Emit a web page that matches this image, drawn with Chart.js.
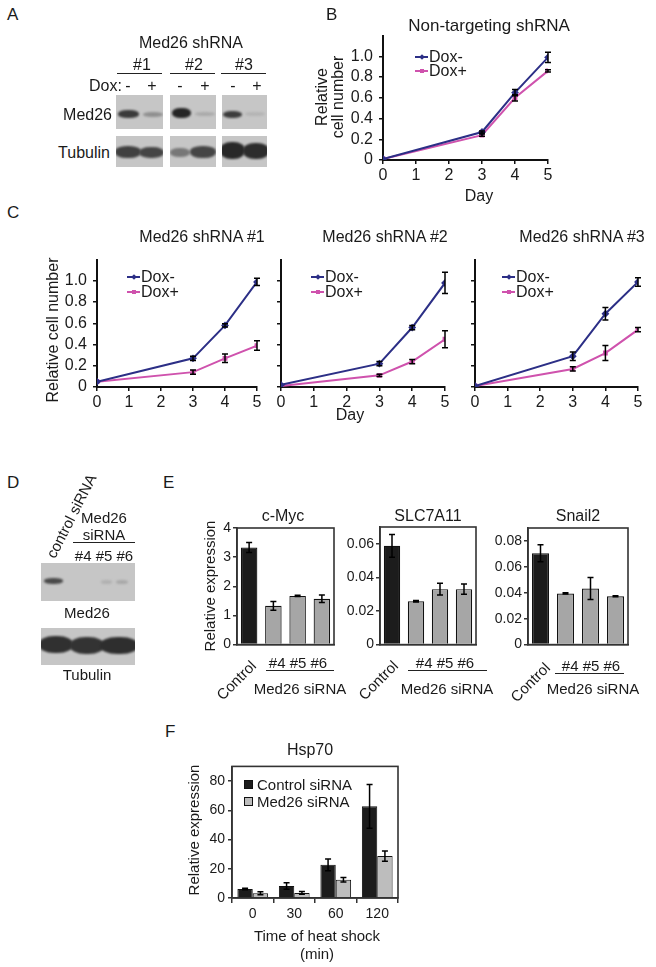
<!DOCTYPE html>
<html>
<head>
<meta charset="utf-8">
<script src="https://cdn.jsdelivr.net/npm/chart.js@4.4.0/dist/chart.umd.min.js"></script>
<style>
body{margin:0;background:#fff;width:656px;height:967px;position:relative;overflow:hidden;font-family:Arial,"Liberation Sans",sans-serif;color:#1a1a1a}
canvas{position:absolute}
.t{position:absolute;white-space:nowrap;line-height:1}
.ln{position:absolute;border-top:1.6px solid #222;height:0}
.blot{position:absolute;background:#c6c6c6;overflow:hidden}
.band{position:absolute;border-radius:45%;filter:blur(1.2px)}
</style>
</head>
<body>
<canvas id="chB" width="230" height="170"></canvas>
<canvas id="chC1" width="230" height="170"></canvas>
<canvas id="chC2" width="220" height="170"></canvas>
<canvas id="chC3" width="215" height="170"></canvas>
<canvas id="chMyc" width="150" height="140"></canvas>
<canvas id="chSlc" width="150" height="140"></canvas>
<canvas id="chSnail" width="155" height="140"></canvas>
<canvas id="chHsp" width="230" height="180"></canvas>
<script>
// growth curves (relative cell number), days 0,3,4,5
const days = [0, 3, 4, 5];
const ntMinus = [0.01, 0.27, 0.65, 0.99];
const ntMinusErr = [0, 0.01, 0.03, 0.05];
const ntPlus = [0.01, 0.24, 0.60, 0.86];
const ntPlusErr = [0, 0.01, 0.03, 0.01];
const sh1Minus = [0.05, 0.27, 0.58, 0.99];
const sh1MinusErr = [0, 0.02, 0.015, 0.035];
const sh1Plus = [0.05, 0.14, 0.27, 0.39];
const sh1PlusErr = [0, 0.02, 0.04, 0.045];
const sh2Minus = [0.02, 0.22, 0.56, 0.98];
const sh2MinusErr = [0, 0.02, 0.02, 0.10];
const sh2Plus = [0.01, 0.11, 0.24, 0.45];
const sh2PlusErr = [0, 0.01, 0.02, 0.08];
const sh3Minus = [0.01, 0.29, 0.69, 0.99];
const sh3MinusErr = [0, 0.04, 0.06, 0.04];
const sh3Plus = [0.01, 0.17, 0.32, 0.54];
const sh3PlusErr = [0, 0.02, 0.07, 0.02];

// qPCR after siRNA
const siGroups = ["Control", "#4", "#5", "#6"];
const myc = [3.33, 1.33, 1.67, 1.57];
const mycErr = [0.17, 0.15, 0.02, 0.13];
const slc = [0.0588, 0.0258, 0.033, 0.033];
const slcErr = [0.0068, 0.0005, 0.0035, 0.003];
const snail = [0.0705, 0.0395, 0.0433, 0.0373];
const snailErr = [0.0066, 0.0005, 0.0084, 0.0004];

// Hsp70 heat shock
const hsTimes = ["0", "30", "60", "120"];
const hspControl = [6.2, 8.2, 22.7, 62.7];
const hspControlErr = [0.5, 2.2, 4, 15];
const hspMed26 = [3.2, 3.5, 12.5, 28.7];
const hspMed26Err = [1, 1, 1.5, 3.5];

const BLUE = "#2c2f86";
const PINK = "#cf52ad";
const DARK = "#1c1c1c";
const GRAY = "#a6a6a6";

Chart.defaults.font.family = 'Arial, "Liberation Sans", sans-serif';
Chart.defaults.color = "#1a1a1a";

// ticks 0, step, 2*step ... up to lastTick (the axis itself may go higher)
function stepTicks(step, lastTick) {
  return s => {
    const out = [];
    for (let k = 0; k * step <= lastTick + 1e-9; k++) out.push({ value: +(k * step).toFixed(6) });
    s.ticks = out;
  };
}

const errorBars = {
  id: "errorBars",
  afterDatasetsDraw(chart) {
    const ctx = chart.ctx, ys = chart.scales.y;
    chart.data.datasets.forEach((ds, i) => {
      if (!ds.errors) return;
      const cap = ds.errCap || 3;
      chart.getDatasetMeta(i).data.forEach((el, j) => {
        const e = ds.errors[j];
        if (!e) return;
        const d = ds.data[j];
        const v = typeof d === "object" ? d.y : d;
        const top = ys.getPixelForValue(v + e), bot = ys.getPixelForValue(v - e);
        ctx.save();
        ctx.strokeStyle = "#000";
        ctx.lineWidth = 1.5;
        ctx.beginPath();
        ctx.moveTo(el.x, top); ctx.lineTo(el.x, bot);
        ctx.moveTo(el.x - cap, top); ctx.lineTo(el.x + cap, top);
        ctx.moveTo(el.x - cap, bot); ctx.lineTo(el.x + cap, bot);
        ctx.stroke();
        ctx.restore();
      });
    });
  }
};

const frame = {
  id: "frame",
  afterDraw(chart) {
    const a = chart.chartArea, ctx = chart.ctx;
    ctx.save();
    ctx.strokeStyle = "#333";
    ctx.lineWidth = 1.6;
    ctx.strokeRect(a.left, a.top, a.right - a.left, a.bottom - a.top);
    ctx.restore();
  }
};

function place(id, left, top) {
  const c = document.getElementById(id);
  c.style.left = left + "px";
  c.style.top = top + "px";
  return c;
}

function growthChart(id, left, top, yW, padTop, padRight, xH, minus, minusErr, plus, plusErr, showY) {
  const cv = place(id, left, top);
  new Chart(cv, {
    type: "line",
    data: {
      datasets: [
        { label: "Dox-", data: days.map((d, i) => ({ x: d, y: minus[i] })), errors: minusErr,
          borderColor: BLUE, backgroundColor: BLUE, borderWidth: 2, pointStyle: "rectRot", pointRadius: 2.5 },
        { label: "Dox+", data: days.map((d, i) => ({ x: d, y: plus[i] })), errors: plusErr,
          borderColor: PINK, backgroundColor: PINK, borderWidth: 2, pointStyle: "rect", pointRadius: 2 }
      ]
    },
    options: {
      responsive: false, animation: false, devicePixelRatio: 1,
      layout: { padding: { top: padTop, right: padRight, left: 0, bottom: 0 } },
      plugins: { legend: { display: false }, tooltip: { enabled: false } },
      scales: {
        x: {
          type: "linear", min: 0, max: 5,
          ticks: { stepSize: 1, font: { size: 16 }, padding: 2, maxRotation: 0 },
          grid: { drawOnChartArea: false, tickLength: 4, color: "#111", lineWidth: 1.5 },
          border: { color: "#111", width: 2 },
          afterFit: s => { s.height = xH; }
        },
        y: {
          min: 0, max: 1.2,
          ticks: { font: { size: 16 }, padding: 6,
            callback: v => showY ? (v === 0 ? "0" : v.toFixed(1)) : "" },
          afterBuildTicks: stepTicks(0.2, 1.0),
          grid: { drawOnChartArea: false, tickLength: 4, color: "#111", lineWidth: 1.5 },
          border: { color: "#111", width: 2 },
          afterFit: s => { s.width = yW; }
        }
      }
    },
    plugins: [errorBars]
  });
}

function exprChart(id, left, top, yW, padTop, padRight, xH, vals, errs, max, step, lastTick) {
  const cv = place(id, left, top);
  new Chart(cv, {
    type: "bar",
    data: {
      labels: siGroups,
      datasets: [{ data: vals, errors: errs, errCap: 3,
        backgroundColor: [DARK, GRAY, GRAY, GRAY], borderColor: "#111", borderWidth: 1.2,
        barPercentage: 0.68, categoryPercentage: 1 }]
    },
    options: {
      responsive: false, animation: false, devicePixelRatio: 1,
      layout: { padding: { top: padTop, right: padRight, left: 0, bottom: 0 } },
      plugins: { legend: { display: false }, tooltip: { enabled: false } },
      scales: {
        x: {
          ticks: { display: false }, grid: { display: false },
          border: { color: "#333", width: 1.6 },
          afterFit: s => { s.height = xH; }
        },
        y: {
          min: 0, max: max,
          ticks: { font: { size: 14 }, padding: 2,
            callback: v => v === 0 ? "0" : (step < 1 ? v.toFixed(2) : String(v)) },
          afterBuildTicks: stepTicks(step, lastTick),
          grid: { drawOnChartArea: false, tickLength: 4, color: "#333", lineWidth: 1.5 },
          border: { color: "#333", width: 1.6 },
          afterFit: s => { s.width = yW; }
        }
      }
    },
    plugins: [errorBars, frame]
  });
}

growthChart("chB", 330, 20, 53, 10, 12, 30, ntMinus, ntMinusErr, ntPlus, ntPlusErr, true);
growthChart("chC1", 40, 244, 57, 10, 13, 27, sh1Minus, sh1MinusErr, sh1Plus, sh1PlusErr, true);
growthChart("chC2", 240, 244, 41, 10, 15, 27, sh2Minus, sh2MinusErr, sh2Plus, sh2PlusErr, false);
growthChart("chC3", 440, 244, 35, 10, 17, 27, sh3Minus, sh3MinusErr, sh3Plus, sh3PlusErr, false);

exprChart("chMyc", 195, 515, 42, 13, 11, 7, myc, mycErr, 4, 1, 4);
exprChart("chSlc", 335, 515, 45, 12, 9, 8, slc, slcErr, 0.07, 0.02, 0.06);
exprChart("chSnail", 483, 515, 45, 13, 10, 5, snail, snailErr, 0.09, 0.02, 0.08);

new Chart(place("chHsp", 180, 755), {
  type: "bar",
  data: {
    labels: hsTimes,
    datasets: [
      { label: "Control siRNA", data: hspControl, errors: hspControlErr, errCap: 3,
        backgroundColor: DARK, borderColor: "#111", borderWidth: 1, categoryPercentage: 0.74, barPercentage: 1 },
      { label: "Med26 siRNA", data: hspMed26, errors: hspMed26Err, errCap: 3,
        backgroundColor: "#bdbdbd", borderColor: "#111", borderWidth: 1, categoryPercentage: 0.74, barPercentage: 1 }
    ]
  },
  options: {
    responsive: false, animation: false, devicePixelRatio: 1,
    layout: { padding: { top: 8, right: 12, left: 0, bottom: 0 } },
    plugins: { legend: { display: false }, tooltip: { enabled: false } },
    scales: {
      x: {
        offset: true,
        ticks: { font: { size: 14 }, padding: 3 },
        grid: { offset: true, drawOnChartArea: false, tickLength: 5, color: "#333", lineWidth: 1.5 },
        border: { color: "#333", width: 1.6 },
        afterFit: s => { s.height = 37; }
      },
      y: {
        min: 0, max: 90,
        ticks: { font: { size: 14 }, padding: 3 },
        afterBuildTicks: stepTicks(20, 80),
        grid: { drawOnChartArea: false, tickLength: 4, color: "#333", lineWidth: 1.5 },
        border: { color: "#333", width: 1.6 },
        afterFit: s => { s.width = 52; }
      }
    }
  },
  plugins: [errorBars, frame]
});

// ---- text, legends, blots (html) ----
function txt(s, x, y, size, anchor, rot) {
  const d = document.createElement("div");
  d.className = "t";
  d.textContent = s;
  d.style.left = x + "px";
  d.style.top = y + "px";
  d.style.fontSize = size + "px";
  const tx = anchor === "left" ? "0" : anchor === "right" ? "-100%" : "-50%";
  d.style.transform = `translate(${tx},-50%)` + (rot ? ` rotate(${rot}deg)` : "");
  document.body.appendChild(d);
}
function hline(x1, x2, y) {
  const d = document.createElement("div");
  d.className = "ln";
  d.style.left = x1 + "px"; d.style.top = y + "px"; d.style.width = (x2 - x1) + "px";
  document.body.appendChild(d);
}
function legendLine(x, y, color, diamond, label) {
  const l = document.createElement("div");
  l.style.cssText = `position:absolute;left:${x}px;top:${y - 1}px;width:13px;height:2px;background:${color}`;
  document.body.appendChild(l);
  const m = document.createElement("div");
  const s = 4;
  m.style.cssText = `position:absolute;left:${x + 6.5 - s / 2}px;top:${y - s / 2}px;width:${s}px;height:${s}px;background:${color};` +
    (diamond ? "transform:rotate(45deg)" : "");
  document.body.appendChild(m);
  txt(label, x + 14, y, 16, "left");
}
function legendBox(x, y, color, label) {
  const b = document.createElement("div");
  b.style.cssText = `position:absolute;left:${x}px;top:${y - 4}px;width:7px;height:7px;background:${color};border:1px solid #111`;
  document.body.appendChild(b);
  txt(label, x + 13, y, 15, "left");
}
function blot(x, y, w, h, bands) {
  const b = document.createElement("div");
  b.className = "blot";
  b.style.cssText += `left:${x}px;top:${y}px;width:${w}px;height:${h}px`;
  bands.forEach(([bx, by, bw, bh, c]) => {
    const d = document.createElement("div");
    d.className = "band";
    d.style.cssText += `left:${bx - x}px;top:${by - y}px;width:${bw}px;height:${bh}px;background:${c}`;
    b.appendChild(d);
  });
  document.body.appendChild(b);
}

// panel letters
txt("A", 7, 14, 17, "left");
txt("B", 326, 14, 17, "left");
txt("C", 7, 212, 17, "left");
txt("D", 7, 482, 17, "left");
txt("E", 163, 482, 17, "left");
txt("F", 165, 731, 17, "left");

// A: western blot
txt("Med26 shRNA", 191, 43, 16);
txt("#1", 142, 65, 16); txt("#2", 194, 65, 16); txt("#3", 244, 65, 16);
hline(117, 162, 73); hline(170, 215, 73); hline(221, 266, 73);
txt("Dox:", 89, 86, 16, "left");
[[128, "-"], [152, "+"], [180, "-"], [205, "+"], [233, "-"], [257, "+"]].forEach(([x, s]) => txt(s, x, 86, 16));
txt("Med26", 112, 115, 16, "right");
txt("Tubulin", 110, 153, 16, "right");
blot(116, 95, 47, 34, [[118, 110, 21, 8, "#3a3a3a"], [143, 112, 20, 5, "#8f8f8f"]]);
blot(170, 95, 46, 34, [[172, 108, 19, 10, "#252525"], [195, 112, 20, 4, "#aaaaaa"]]);
blot(222, 95, 45, 34, [[223, 111, 19, 7, "#3c3c3c"], [245, 112, 20, 4, "#b4b4b4"]]);
blot(116, 136, 47, 31, [[115, 146, 26, 12, "#404040"], [139, 147, 25, 11, "#454545"]]);
blot(170, 136, 46, 31, [[170, 148, 20, 9, "#777777"], [190, 146, 26, 12, "#454545"]]);
blot(222, 136, 45, 31, [[220, 142, 25, 17, "#282828"], [243, 143, 26, 16, "#2c2c2c"]]);

// B
txt("Non-targeting shRNA", 489, 25, 17);
txt("Relative", 322, 97, 16, "center", -90);
txt("cell number", 338, 97, 16, "center", -90);
txt("Day", 479, 196, 16);
legendLine(415, 57, BLUE, true, "Dox-");
legendLine(415, 71, PINK, false, "Dox+");

// C
txt("Med26 shRNA #1", 202, 237, 16);
txt("Med26 shRNA #2", 385, 237, 16);
txt("Med26 shRNA #3", 582, 237, 16);
txt("Relative cell number", 53, 330, 16, "center", -90);
txt("Day", 350, 415, 16);
[127, 311, 502].forEach(x => {
  legendLine(x, 277, BLUE, true, "Dox-");
  legendLine(x, 292, PINK, false, "Dox+");
});

// D: western blot
txt("control siRNA", 71, 516, 15, "center", -63);
txt("Med26", 104, 517, 15);
txt("siRNA", 104, 534, 15);
hline(73, 135, 542);
txt("#4 #5 #6", 104, 555, 15);
blot(41, 563, 94, 38, [[44, 578, 19, 6, "#4a4a4a"], [101, 580, 11, 4, "#b0b0b0"], [116, 580, 12, 4, "#a8a8a8"]]);
txt("Med26", 87, 612, 15);
blot(41, 628, 94, 37, [[39, 636, 34, 17, "#303030"], [70, 637, 34, 17, "#333333"], [100, 637, 38, 17, "#2e2e2e"]]);
txt("Tubulin", 87, 674, 15);

// E
txt("c-Myc", 283, 516, 16);
txt("SLC7A11", 428, 516, 16);
txt("Snail2", 578, 516, 16);
txt("Relative expression", 209, 586, 15, "center", -90);
[[236, 680, 300, 266, 334, 670],
 [378, 680, 447, 408, 487, 670],
 [530, 682, 593, 555, 624, 673]].forEach(([cx, cy, mid, l1, l2, ly]) => {
  txt("Control", cx, cy, 15, "center", -45);
  txt("#4 #5 #6", mid - 2, ly - 8, 15);
  hline(l1, l2, ly);
  txt("Med26 siRNA", mid, 688, 15);
});

// F
txt("Hsp70", 310, 750, 16);
txt("Relative expression", 193, 830, 15, "center", -90);
txt("Time of heat shock", 317, 935, 15);
txt("(min)", 317, 953, 15);
legendBox(244, 784, DARK, "Control siRNA");
legendBox(244, 801, "#bdbdbd", "Med26 siRNA");
</script>
</body>
</html>
